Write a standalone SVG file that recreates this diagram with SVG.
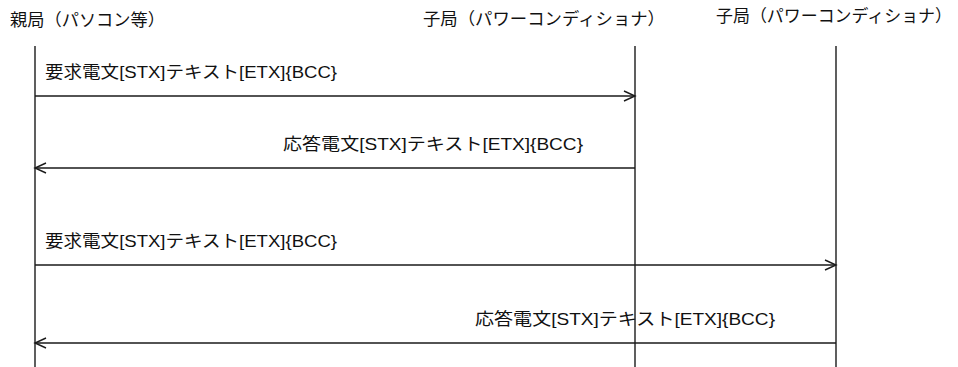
<svg xmlns="http://www.w3.org/2000/svg" width="958" height="367" viewBox="0 0 958 367">
<style>
text{font-family:"Liberation Sans","Noto Sans CJK JP",sans-serif;fill:#111}
.t{font-size:17px}
.m{font-size:17px}
.life{stroke:#1a1a1a;stroke-width:1.4;fill:none}
.msg{stroke:#1a1a1a;stroke-width:1.4;fill:none;marker-end:url(#ah)}
</style>
<defs>
<marker id="ah" markerUnits="userSpaceOnUse" markerWidth="14" markerHeight="14" refX="12" refY="6" orient="auto">
<path d="M1,1 L12,6 L1,11" fill="none" stroke="#1a1a1a" stroke-width="1.4"/>
</marker>
</defs>
<rect width="958" height="367" fill="#fff"/>
<g id="master">
<text class="t" x="10" y="26" textLength="155" lengthAdjust="spacingAndGlyphs">親局（パソコン等）</text>
<line class="life" x1="35" y1="46" x2="35" y2="367"/>
</g>
<g id="slave1">
<text class="t" x="423" y="25" textLength="242" lengthAdjust="spacingAndGlyphs">子局（パワーコンディショナ）</text>
<line class="life" x1="635" y1="46" x2="635" y2="367"/>
</g>
<g id="slave2">
<text class="t" x="716" y="22" textLength="236" lengthAdjust="spacingAndGlyphs">子局（パワーコンディショナ）</text>
<line class="life" x1="836" y1="46" x2="836" y2="367"/>
</g>
<g id="connectors">
<line class="msg" x1="35" y1="96" x2="635" y2="96"/>
<text class="m" x="45" y="78" textLength="292" lengthAdjust="spacingAndGlyphs">要求電文[STX]テキスト[ETX]{BCC}</text>
<line class="msg" x1="635" y1="168" x2="35" y2="168"/>
<text class="m" x="283" y="150" textLength="300" lengthAdjust="spacingAndGlyphs">応答電文[STX]テキスト[ETX]{BCC}</text>
<line class="msg" x1="35" y1="265" x2="836" y2="265"/>
<text class="m" x="45" y="247" textLength="292" lengthAdjust="spacingAndGlyphs">要求電文[STX]テキスト[ETX]{BCC}</text>
<line class="msg" x1="836" y1="343" x2="35" y2="343"/>
<text class="m" x="475" y="325" textLength="300" lengthAdjust="spacingAndGlyphs">応答電文[STX]テキスト[ETX]{BCC}</text>
</g>
</svg>
